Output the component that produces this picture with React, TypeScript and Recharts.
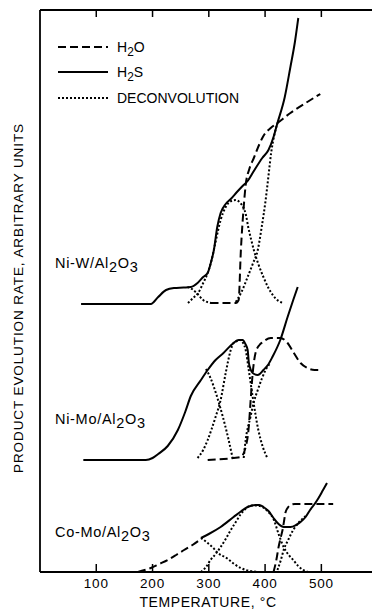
import React from 'react';
import { LineChart, Line, XAxis, YAxis, Legend } from 'recharts';

// [temperature °C, relative rate]
const niwH2S: [number, number][] = [
  [73, 268], [197, 268], [210, 275], [224, 282], [238, 284], [255, 284.5], [268, 285],
  [280, 289], [290, 295], [298, 299], [304, 310], [309, 322], [315, 345], [321, 359],
  [330, 368], [339, 373], [350, 380], [360, 386], [369, 391], [380, 401], [395, 414],
  [406, 422], [415, 435], [422, 449], [435, 475], [445, 505], [453, 530], [459, 554],
];
const niwH2O: [number, number][] = [
  [303, 269], [348, 269], [353, 272], [357, 322], [362, 365], [365.5, 387], [372, 403],
  [380, 414], [390, 428], [397, 436], [410, 444], [422, 449], [445, 459], [475, 470], [498, 478],
];
const niwDecA: [number, number][] = [[262, 285], [270, 283], [280, 278], [290, 272], [304, 269]];
const niwDecB: [number, number][] = [
  [263, 269], [272, 274], [281, 279], [290, 289], [298, 299], [305, 312], [312, 330],
  [321, 352], [330, 365], [340, 371], [348, 372], [356, 369], [362, 364], [366, 357],
  [370, 345], [375, 333], [380, 322], [388, 308], [397, 295], [406, 284], [415, 276],
  [424, 271], [433, 269],
];
const niwDecC: [number, number][] = [
  [348, 270], [358, 280], [369, 295], [378, 308], [387, 322], [394, 345], [401, 372],
  [406, 396], [411, 420], [416, 436], [422, 449],
];

const nimoH2S: [number, number][] = [
  [77, 112], [188, 112], [200, 114], [210, 118], [227, 126], [245, 142], [258, 160],
  [268, 176], [286, 192], [298, 202], [312, 212], [326, 219], [344, 229], [353, 232],
  [360, 232], [365, 228], [369, 222], [371, 210], [374, 203], [378, 199], [387, 197],
  [397, 202], [405, 207], [413, 215], [427, 232], [440, 255], [450, 272], [458, 285],
];
const nimoH2O: [number, number][] = [
  [298, 112], [344, 114], [357, 115], [365.5, 125], [371, 145], [374, 169], [378, 199],
  [383, 219], [390, 227], [396, 230], [410, 234], [427, 234], [440, 229], [450, 220],
  [463, 209], [475, 204], [488, 202], [498, 202],
];
const nimoDec1: [number, number][] = [
  [295, 203], [303, 194], [309, 185], [318, 169], [325, 155], [334, 135], [343, 112],
];
const nimoDec2: [number, number][] = [
  [280, 114], [290, 122], [298, 132], [305, 143], [312, 155], [321, 172], [330, 199],
  [339, 222], [344, 229], [350, 231], [356, 232], [361, 229], [365.5, 222], [371, 202],
  [378, 175], [388, 142], [396, 125], [404, 114],
];
const nimoDec3: [number, number][] = [
  [362, 114], [365.5, 132], [374, 155], [380, 170], [387, 182], [394, 193], [401, 202], [408, 208],
];

const comoH2OLow: [number, number][] = [
  [174, 0], [186, 2], [197, 4], [212, 8], [227, 12], [242, 17], [256, 22], [271, 27], [286, 33],
];
const comoH2S: [number, number][] = [
  [286, 34], [300, 38], [321, 45], [344, 55], [358, 61], [369, 65], [383, 67], [390, 67],
  [397, 65], [406, 61], [415, 54], [424, 48], [433, 45], [445, 45], [455, 47], [463, 50],
  [472, 55], [480, 62], [488, 68], [495, 74], [503, 82], [510, 89],
];
const comoH2OHigh: [number, number][] = [
  [415, 0], [420, 12], [424, 25], [428, 35], [431, 42], [434, 52], [436, 59], [440, 64],
  [445, 67], [453, 68], [463, 68], [521, 68],
];
const comoDec1: [number, number][] = [
  [286, 34], [291, 32], [300, 28], [308, 24], [316, 19], [325, 16], [334, 13], [345, 8],
  [357, 4], [366, 2], [374, 1], [390, 0],
];
const comoDec2: [number, number][] = [
  [286, 0], [295, 5], [303, 12], [312, 18], [321, 25], [330, 33], [339, 42], [348, 50],
  [357, 58], [365, 63], [372, 66], [383, 66.5], [395, 65], [406, 60], [415, 53], [424, 38],
  [433, 25], [442, 17], [450, 12], [459, 6], [468, 2], [476, 0],
];
const comoDec3: [number, number][] = [
  [422, 2], [428, 12], [433, 22], [441, 32], [450, 42], [459, 49], [468, 54], [474, 57],
];

const tempTicks = [100, 200, 300, 400, 500];

const FONT = '"Liberation Sans", Arial, sans-serif';

const toPts = (arr: [number, number][]) => arr.map(([t, v]) => ({ t, v }));

const styles = {
  h2s: { strokeWidth: 2, dash: undefined as string | undefined },
  h2o: { strokeWidth: 2, dash: '8 4' },
  dec: { strokeWidth: 2, dash: '2 2' },
};

const series: { key: string; data: [number, number][]; kind: keyof typeof styles }[] = [
  { key: 'niwDecA', data: niwDecA, kind: 'dec' },
  { key: 'niwDecB', data: niwDecB, kind: 'dec' },
  { key: 'niwDecC', data: niwDecC, kind: 'dec' },
  { key: 'niwH2O', data: niwH2O, kind: 'h2o' },
  { key: 'niwH2S', data: niwH2S, kind: 'h2s' },
  { key: 'nimoDec1', data: nimoDec1, kind: 'dec' },
  { key: 'nimoDec2', data: nimoDec2, kind: 'dec' },
  { key: 'nimoDec3', data: nimoDec3, kind: 'dec' },
  { key: 'nimoH2O', data: nimoH2O, kind: 'h2o' },
  { key: 'nimoH2S', data: nimoH2S, kind: 'h2s' },
  { key: 'comoDec1', data: comoDec1, kind: 'dec' },
  { key: 'comoDec2', data: comoDec2, kind: 'dec' },
  { key: 'comoDec3', data: comoDec3, kind: 'dec' },
  { key: 'comoH2OLow', data: comoH2OLow, kind: 'h2o' },
  { key: 'comoH2OHigh', data: comoH2OHigh, kind: 'h2o' },
  { key: 'comoH2S', data: comoH2S, kind: 'h2s' },
];

const legendRows = [
  { kind: 'h2o' as const, parts: ['H', '2', 'O'] },
  { kind: 'h2s' as const, parts: ['H', '2', 'S'] },
  { kind: 'dec' as const, parts: ['DECONVOLUTION', '', ''] },
];

const BottomTick = (props: any) => {
  const { x, y, payload } = props;
  return (
    <g>
      <line x1={x} y1={y} x2={x} y2={y - 8} stroke="#000" strokeWidth={1.5} />
      <text x={x} y={y + 16} textAnchor="middle" fontSize={13.5} fontFamily={FONT} letterSpacing={0.8} fill="#000">
        {payload.value}
      </text>
    </g>
  );
};

const TopTick = (props: any) => {
  const { x, y } = props;
  return <line x1={x} y1={y} x2={x} y2={y + 7} stroke="#000" strokeWidth={1.5} />;
};

const renderLegend = () => (
  <div style={{ fontFamily: FONT, fontSize: 14, color: '#000' }}>
    {legendRows.map((row) => (
      <div key={row.kind} style={{ display: 'flex', alignItems: 'center', height: 25.5 }}>
        <svg width={52} height={6} style={{ marginRight: 7 }}>
          <line
            x1={0}
            y1={3}
            x2={50}
            y2={3}
            stroke="#000"
            strokeWidth={styles[row.kind].strokeWidth}
            strokeDasharray={styles[row.kind].dash}
          />
        </svg>
        <span>
          {row.parts[0]}
          {row.parts[1] && <sub style={{ fontSize: '0.85em', verticalAlign: '-0.3em', lineHeight: 0 }}>{row.parts[1]}</sub>}
          {row.parts[2]}
        </span>
      </div>
    ))}
  </div>
);

const Catalyst = ({ metal, top }: { metal: string; top: number }) => (
  <div style={{ position: 'absolute', left: 55, top, fontFamily: FONT, fontSize: 14.5, letterSpacing: 0.7, whiteSpace: 'nowrap' }}>
    {metal}/Al
    <sub style={{ fontSize: '1em', verticalAlign: '-0.3em', lineHeight: 0 }}>2</sub>O
    <sub style={{ fontSize: '1em', verticalAlign: '-0.3em', lineHeight: 0 }}>3</sub>
  </div>
);

const App: React.FC = () => {
  return (
    <div style={{ position: 'absolute', left: 0, top: 0, width: 372, height: 609, background: '#fff', overflow: 'hidden' }}>
      <LineChart width={372} height={609} margin={{ top: 9, right: 0, bottom: 0, left: 39 }}>
        <XAxis
          dataKey="t"
          type="number"
          domain={[0, 590]}
          ticks={tempTicks}
          allowDataOverflow
          height={37}
          tickSize={0}
          tickMargin={0}
          tickLine={false}
          tick={<BottomTick />}
          axisLine={{ stroke: '#000', strokeWidth: 1.8 }}
        />
        <XAxis
          xAxisId="top"
          orientation="top"
          dataKey="t"
          type="number"
          domain={[0, 590]}
          ticks={tempTicks}
          allowDataOverflow
          height={1}
          tickSize={0}
          tickMargin={0}
          tickLine={false}
          tick={<TopTick />}
          axisLine={{ stroke: '#000', strokeWidth: 1.8 }}
        />
        <YAxis
          type="number"
          domain={[0, 562]}
          allowDataOverflow
          width={1}
          tick={false}
          tickLine={false}
          axisLine={{ stroke: '#000', strokeWidth: 1.8 }}
        />
        <Legend
          content={renderLegend}
          layout="horizontal"
          verticalAlign="middle"
          align="center"
          wrapperStyle={{ left: 58, top: 34, width: 'auto' }}
        />
        {series.map((s) => (
          <Line
            key={s.key}
            name={s.key}
            data={toPts(s.data)}
            dataKey="v"
            type="monotone"
            stroke="#000"
            strokeWidth={styles[s.kind].strokeWidth}
            strokeDasharray={styles[s.kind].dash}
            dot={false}
            activeDot={false}
            legendType="none"
            isAnimationActive={false}
          />
        ))}
      </LineChart>
      <Catalyst metal="Ni-W" top={255} />
      <Catalyst metal="Ni-Mo" top={411} />
      <Catalyst metal="Co-Mo" top={524} />
      <div
        style={{
          position: 'absolute',
          left: 18,
          top: 298,
          transform: 'translate(-50%, -50%) rotate(-90deg)',
          fontFamily: FONT,
          fontSize: 13.5,
          letterSpacing: 0.9,
          whiteSpace: 'nowrap',
        }}
      >
        PRODUCT EVOLUTION RATE, ARBITRARY UNITS
      </div>
      <div
        style={{
          position: 'absolute',
          left: 208,
          top: 595,
          transform: 'translateX(-50%)',
          fontFamily: FONT,
          fontSize: 14,
          letterSpacing: 0.6,
          whiteSpace: 'nowrap',
          lineHeight: '14px',
        }}
      >
        TEMPERATURE, °C
      </div>
    </div>
  );
};

export default App;
